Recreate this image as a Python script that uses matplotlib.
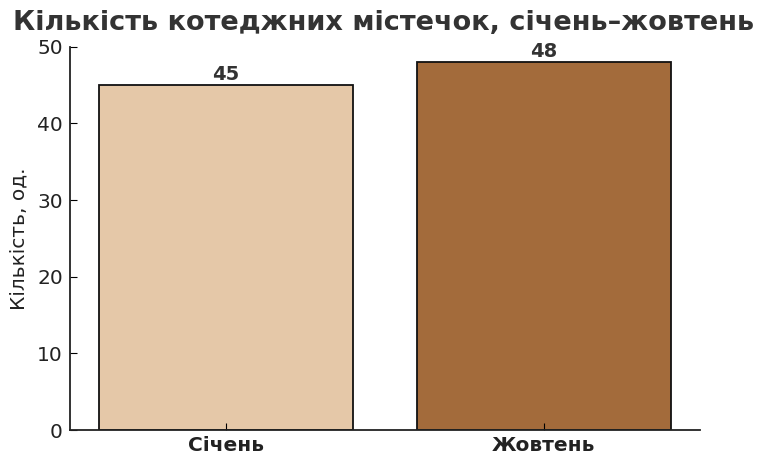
import matplotlib
matplotlib.use("Agg")
import matplotlib.pyplot as plt

# Data
months = ["Січень", "Жовтень"]
counts = [45, 48]
bar_colors = ["#E5C8A8", "#A36B3B"]

fig = plt.figure(figsize=(7.68, 4.68), dpi=100)
ax = fig.add_axes([0.091, 0.081, 0.82, 0.819])

bars = ax.bar(range(len(months)), counts, width=0.8, color=bar_colors,
              edgecolor="#111111", linewidth=1.3)

for b, v in zip(bars, counts):
    ax.text(b.get_x() + b.get_width() / 2, v + 0.2, str(v), ha="center", va="bottom",
            fontsize=14, fontweight="bold", color="#333333")

ax.set_xticks(range(len(months)))
ax.set_xticklabels(months, fontsize=14.5, fontweight="bold", color="#222222")
ax.set_xlim(-0.49, 1.49)
ax.set_ylim(0, 50)
ax.set_yticks([0, 10, 20, 30, 40, 50])
ax.tick_params(axis="y", labelsize=14.5, labelcolor="#222222", direction="in", length=5, pad=5)
ax.tick_params(axis="x", direction="in", length=5, pad=4)
ax.set_ylabel("Кількість, од.", fontsize=14.5, color="#222222", labelpad=6)

ax.spines["top"].set_visible(False)
ax.spines["right"].set_visible(False)
for s in ["left", "bottom"]:
    ax.spines[s].set_color("#222222")
    ax.spines[s].set_linewidth(1.3)

fig.suptitle("Кількість котеджних містечок, січень–жовтень", x=0.5, y=0.978,
             fontsize=19.5, fontweight="bold", color="#333333")

fig.savefig("out.png", dpi=100)
